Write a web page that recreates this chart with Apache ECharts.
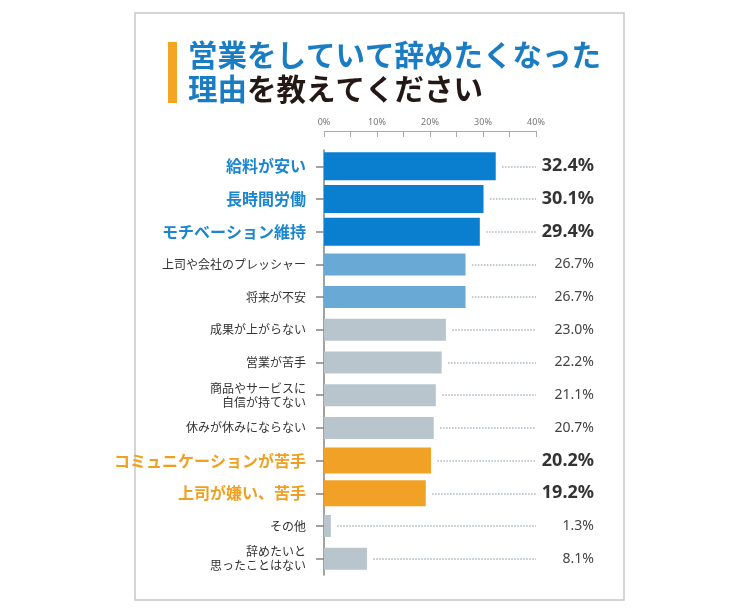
<!DOCTYPE html>
<html><head><meta charset="utf-8">
<script src="https://cdn.jsdelivr.net/npm/echarts@6/dist/echarts.min.js"></script>
<style>html,body{margin:0;padding:0;background:#fff}#c{width:749px;height:608px}</style>
</head><body><div id="c"></div>
<script>
const categories = ['給料が安い','長時間労働','モチベーション維持','上司や会社のプレッシャー','将来が不安','成果が上がらない','営業が苦手','商品やサービスに\n自信が持てない','休みが休みにならない','コミュニケーションが苦手','上司が嫌い、苦手','その他','辞めたいと\n思ったことはない'];
const values = [32.4,30.1,29.4,26.7,26.7,23.0,22.2,21.1,20.7,20.2,19.2,1.3,8.1];
const groups = ['top','top','top','mid','mid','other','other','other','other','orange','orange','other','other'];
const xTickLabels = ['0%','10%','20%','30%','40%'];

const JP = '"Noto Sans CJK JP", "Noto Sans", sans-serif';
const S = {
  top:    {bar:'#0a7fcf', h:28, cat:{color:'#1a86d0', fontSize:16, fontWeight:'bold'}, val:{color:'#333', fontSize:18, fontWeight:'bold'}},
  mid:    {bar:'#68a9d6', h:22, cat:{color:'#333', fontSize:12, fontWeight:'normal'}, val:{color:'#444', fontSize:14, fontWeight:'normal'}},
  other:  {bar:'#b9c5cd', h:22, cat:{color:'#333', fontSize:12, fontWeight:'normal'}, val:{color:'#444', fontSize:14, fontWeight:'normal'}},
  orange: {bar:'#f0a126', h:26, cat:{color:'#f0a020', fontSize:16, fontWeight:'bold'}, val:{color:'#333', fontSize:18, fontWeight:'bold'}}
};

const chart = echarts.init(document.getElementById('c'));
const leftData = categories.map((c,i)=>({value:c, textStyle:Object.assign({fontFamily:JP, lineHeight:14, align:'right'}, S[groups[i]].cat)}));
const rightData = values.map((v,i)=>({value:v.toFixed(1)+'%', textStyle:Object.assign({fontFamily:'"Noto Sans", sans-serif', align:'right'}, S[groups[i]].val)}));
const barData = values.map((v,i)=>({value:v, symbolSize:['100%', S[groups[i]].h], itemStyle:{color:S[groups[i]].bar}}));
const dotLines = values.map((v,i)=>[{coord:[v+1.2, i]},{coord:[40, i]}]);

chart.setOption({
  backgroundColor:'#fff',
  animation:false,
  title:{
    left:188, top:38, padding:0,
    text:'{b|営業をしていて辞めたくなった}\n{b|理由}{k|を教えてください}',
    textStyle:{
      lineHeight:34,
      rich:{
        b:{color:'#1a7dc4', fontSize:29.5, fontWeight:'bold', fontFamily:JP, lineHeight:34},
        k:{color:'#231815', fontSize:29.5, fontWeight:'bold', fontFamily:JP, lineHeight:34}
      }
    }
  },
  graphic:[
    {type:'rect', shape:{x:135, y:13, width:489, height:587}, style:{fill:'none', stroke:'#c8c8c8', lineWidth:1.5}, silent:true},
    {type:'rect', shape:{x:168, y:42, width:9, height:61}, style:{fill:'#f5a524'}, silent:true}
  ],
  grid:{left:324, right:749-536, top:150, bottom:608-575, containLabel:false},
  xAxis:{
    type:'value', position:'top', min:0, max:40, interval:5, offset:19,
    axisLine:{show:true, lineStyle:{color:'#aaa', width:1}},
    axisTick:{show:true, inside:true, length:6, lineStyle:{color:'#aaa'}},
    axisLabel:{margin:4, fontSize:9, color:'#777', fontFamily:'"Noto Sans", sans-serif',
      formatter:v=> (v%10===0 ? xTickLabels[v/10] : '')},
    splitLine:{show:false}
  },
  yAxis:[
    {type:'category', inverse:true, data:leftData, position:'left',
      axisLine:{show:true, lineStyle:{color:'#8a817d', width:1.5}},
      axisTick:{show:true, alignWithLabel:true, length:8, lineStyle:{color:'#8a817d', width:1.5}},
      axisLabel:{margin:18, interval:0}
    },
    {type:'category', inverse:true, data:rightData, position:'right',
      axisLine:{show:false}, axisTick:{show:false},
      axisLabel:{margin:58, align:'right', interval:0}
    }
  ],
  series:[
    {type:'pictorialBar', yAxisIndex:0, symbol:'rect', symbolRepeat:false, symbolPosition:'start',
      data:barData, z:3,
      markLine:{silent:true, symbol:['none','none'], label:{show:false},
        lineStyle:{color:'#a9b6c0', type:'dotted', width:1.5}, data:dotLines}
    }
  ]
});
</script></body></html>
